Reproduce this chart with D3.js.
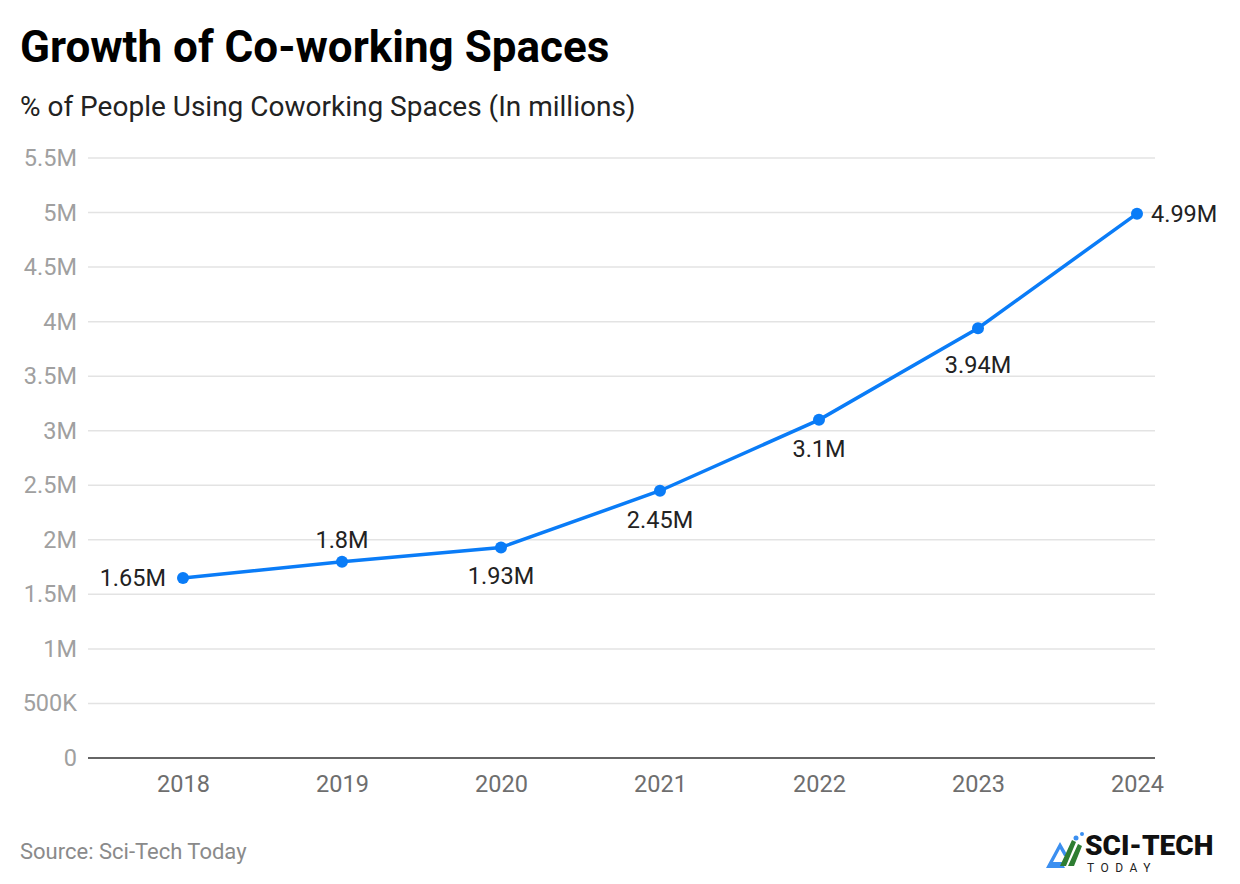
<!DOCTYPE html>
<html>
<head>
<meta charset="utf-8">
<script src="https://cdn.jsdelivr.net/npm/d3@7"></script>
<style>
  body { margin: 0; background: #fff; }
  svg { font-family: Roboto, "Noto Sans", sans-serif; }
</style>
</head>
<body>
<div class="chart"></div>
<script>
var width = 1240
var height = 884

var years = ['2018', '2019', '2020', '2021', '2022', '2023', '2024']
var users = [1.65, 1.8, 1.93, 2.45, 3.1, 3.94, 4.99]
var valueLabels = ['1.65M', '1.8M', '1.93M', '2.45M', '3.1M', '3.94M', '4.99M']
// where each value label sits relative to its dot
var labelSide = ['left', 'above', 'below', 'below', 'below', 'below', 'right']
var yTicks = [0, 0.5, 1, 1.5, 2, 2.5, 3, 3.5, 4, 4.5, 5, 5.5]
var yTickLabels = ['0', '500K', '1M', '1.5M', '2M', '2.5M', '3M', '3.5M', '4M', '4.5M', '5M', '5.5M']

var plotLeft = 88, plotRight = 1155, plotTop = 158, plotBottom = 758

var svg = d3.select('.chart').append('svg')
    .attr('width', width)
    .attr('height', height)

var x = d3.scalePoint().domain(years).range([183, 1137])
var y = d3.scaleLinear().domain([0, 5.5]).range([plotBottom, plotTop])

svg.append('text')
    .attr('x', 20).attr('y', 62)
    .attr('font-size', 44).attr('font-weight', 700).attr('fill', '#000')
    .text('Growth of Co-working Spaces')

svg.append('text')
    .attr('x', 20).attr('y', 116)
    .attr('font-size', 28).attr('fill', '#222')
    .text('% of People Using Coworking Spaces (In millions)')

// gridlines
svg.selectAll('.grid')
    .data(yTicks.slice(1))
    .enter().append('line')
    .attr('x1', plotLeft).attr('x2', plotRight)
    .attr('y1', function (d) { return y(d) })
    .attr('y2', function (d) { return y(d) })
    .attr('stroke', '#e3e3e3').attr('stroke-width', 1.5)

// y tick labels
svg.selectAll('.ytick')
    .data(yTicks)
    .enter().append('text')
    .attr('x', 77)
    .attr('y', function (d) { return y(d) + 8 })
    .attr('text-anchor', 'end')
    .attr('font-size', 23.5).attr('fill', '#a0a0a0')
    .text(function (d, i) { return yTickLabels[i] })

// x axis
var xAxis = svg.append('g').attr('transform', 'translate(0,' + plotBottom + ')')
    .call(d3.axisBottom(x).tickSize(0).tickPadding(17))
xAxis.select('.domain').remove()
xAxis.append('line').attr('x1', plotLeft).attr('x2', plotRight)
    .attr('stroke', '#333').attr('stroke-width', 1.5)
xAxis.selectAll('text')
    .attr('font-family', 'Roboto, sans-serif')
    .attr('font-size', 23.5).attr('fill', '#6e6e6e')

var pts = years.map(function (d, i) { return [x(d), y(users[i])] })

svg.append('path')
    .datum(pts)
    .attr('d', d3.line())
    .attr('fill', 'none')
    .attr('stroke', '#0a7cf7')
    .attr('stroke-width', 3.5)

svg.selectAll('.dot')
    .data(pts)
    .enter().append('circle')
    .attr('cx', function (d) { return d[0] })
    .attr('cy', function (d) { return d[1] })
    .attr('r', 6)
    .attr('fill', '#0a7cf7')

svg.selectAll('.vlabel')
    .data(pts)
    .enter().append('text')
    .attr('x', function (d, i) {
        if (labelSide[i] === 'left') return d[0] - 17
        if (labelSide[i] === 'right') return d[0] + 14
        return d[0]
    })
    .attr('y', function (d, i) {
        if (labelSide[i] === 'above') return d[1] - 14
        if (labelSide[i] === 'below') return d[1] + (i === 5 ? 45 : 37)
        return d[1] + 8
    })
    .attr('text-anchor', function (d, i) {
        if (labelSide[i] === 'left') return 'end'
        if (labelSide[i] === 'right') return 'start'
        return 'middle'
    })
    .attr('font-size', 23.5).attr('fill', '#222')
    .text(function (d, i) { return valueLabels[i] })

svg.append('text')
    .attr('x', 20).attr('y', 859)
    .attr('font-size', 22).attr('fill', '#8a8a8a')
    .text('Source: Sci-Tech Today')

// logo
var logo = svg.append('g').attr('transform', 'translate(1046,828)')
logo.append('path')
    .attr('d', 'M0,40 L14,14 L22,28 L18,28 L14,21 L7,34 L16,34 L19,40 Z')
    .attr('fill', '#3b8ff0')
logo.append('path')
    .attr('d', 'M14,38 L26,12 L30,14 L20,38 Z M22,38 L32,16 L36,18 L28,38 Z')
    .attr('fill', '#2e7d32')
logo.append('circle').attr('cx', 30).attr('cy', 10).attr('r', 2.5).attr('fill', '#3b8ff0')
logo.append('circle').attr('cx', 36).attr('cy', 6).attr('r', 2).attr('fill', '#3b8ff0')
logo.append('text')
    .attr('x', 39).attr('y', 27)
    .attr('font-size', 28).attr('font-weight', 900).attr('fill', '#111')
    .text('SCI-TECH')
logo.append('text')
    .attr('x', 41).attr('y', 44)
    .attr('font-size', 12).attr('letter-spacing', 6.5).attr('fill', '#222')
    .text('TODAY')
</script>
</body>
</html>
